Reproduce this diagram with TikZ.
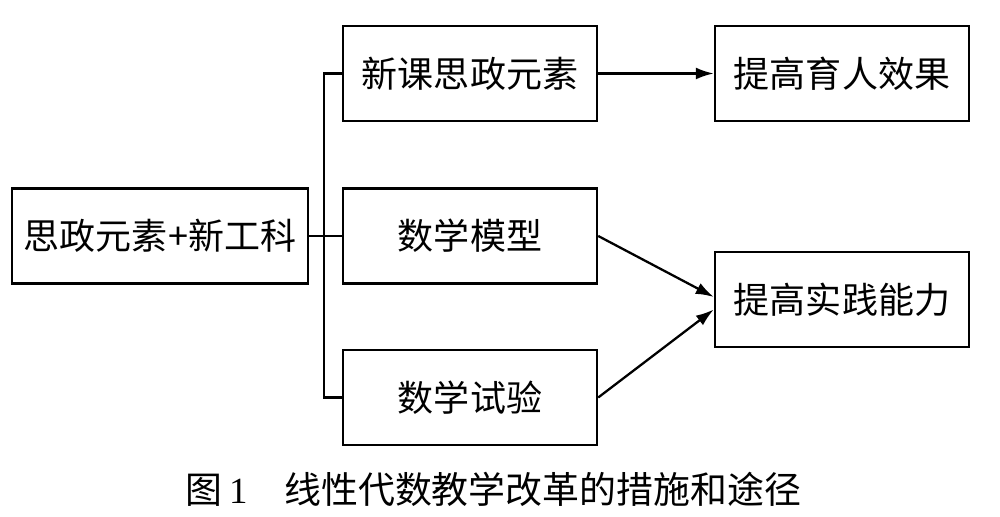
\documentclass[tikz,border=0pt]{standalone}
\usepackage{fontspec}
\setmainfont{Liberation Serif}
\newfontfamily\cjk{Noto Sans CJK SC}
\usetikzlibrary{arrows.meta}

\begin{document}
\begin{tikzpicture}[
  box/.style={draw, line width=1.4pt, minimum height=1.9cm, font=\cjk\fontsize{20.5}{24}\selectfont, inner sep=0pt},
  link/.style={line width=1.3pt},
  arrow/.style={line width=1.3pt, -{Latex[length=3.6mm,width=2.4mm]}}
]
% Page size
\useasboundingbox (0, 0) rectangle (20, 10.34);

% Boxes
\node[box, minimum width=5.92cm] (start) at (3.2, 5.62) {思政元素+新工科};
\node[box, minimum width=5.08cm] (ketang) at (9.4, 8.87) {新课思政元素};
\node[box, minimum width=5.08cm] (moxing) at (9.4, 5.62) {数学模型};
\node[box, minimum width=5.08cm] (shiyan) at (9.4, 2.39) {数学试验};
\node[box, minimum width=5.08cm] (yuren) at (16.84, 8.87) {提高育人效果};
\node[box, minimum width=5.08cm] (shijian) at (16.84, 4.35) {提高实践能力};

% Fork
\coordinate (fork) at (6.48, 5.62);
\draw[link] (start.east) -- (moxing.west);
\draw[link] (ketang.west) -| (fork) |- (shiyan.west);

% Arrows
\draw[arrow] (ketang.east) -- (yuren.west);
\draw[arrow] (moxing.east) -- ([yshift=0.05cm]shijian.west);
\draw[arrow] (shiyan.east) -- ([yshift=-0.2cm]shijian.west);

% Caption
\node[font=\cjk\fontsize{21}{25}\selectfont] (caption) at (9.87, 0.56) {图\,{\rmfamily 1}\quad 线性代数教学改革的措施和途径};
\end{tikzpicture}
\end{document}
